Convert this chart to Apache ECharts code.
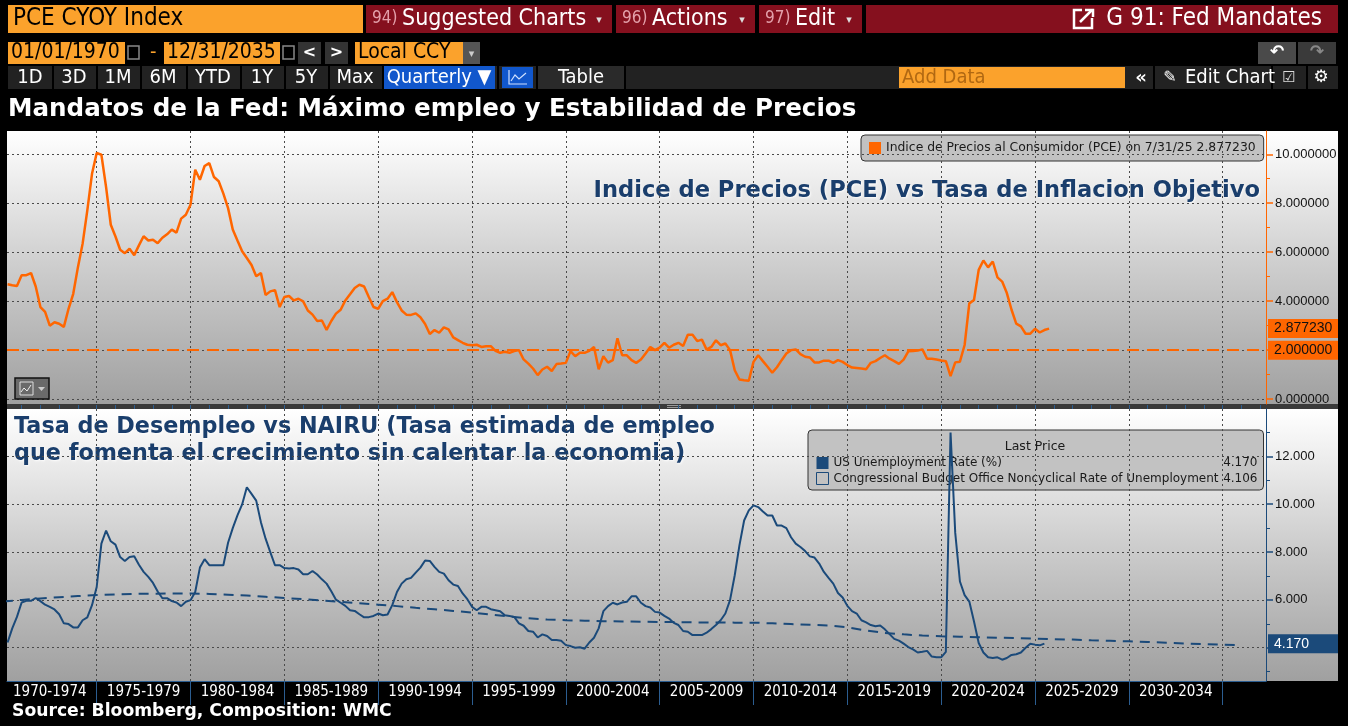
<!DOCTYPE html>
<html>
<head>
<meta charset="utf-8">
<title>G 91: Fed Mandates</title>
<script src="https://cdn.jsdelivr.net/npm/echarts@6/dist/echarts.min.js"></script>
<style>
  html, body { margin: 0; padding: 0; background: #000; }
  #main { width: 1348px; height: 726px; }
</style>
</head>
<body>
<div id="main"></div>
<script>
// PCE CYOY, quarterly from 1970 Q1 (last point is July 2025)
const pceStartYear = 1970;
const pceCore = [
  4.69, 4.65, 4.62, 5.06,  5.06, 5.15, 4.60, 3.76,  3.56, 3.00, 3.14, 3.08,
  2.95, 3.69, 4.30, 5.39,  6.35, 7.71, 9.20, 10.05, 9.98, 8.66, 7.12, 6.64,
  6.10, 5.96, 6.14, 5.88,  6.28, 6.65, 6.48, 6.51,  6.37, 6.59, 6.73, 6.92,
  6.80, 7.37, 7.53, 7.94,  9.37, 8.96, 9.52, 9.64,  9.07, 8.90, 8.39, 7.80,
  6.93, 6.48, 6.04, 5.76,  5.48, 5.02, 5.15, 4.25,  4.40, 4.45, 3.76, 4.17,
  4.21, 4.03, 4.10, 3.99,  3.62, 3.45, 3.19, 3.21,  2.83, 3.19, 3.49, 3.65,
  4.03, 4.28, 4.54, 4.67,  4.60, 4.17, 3.76, 3.69,  4.00, 4.10, 4.37, 3.96,
  3.62, 3.45, 3.44, 3.50,  3.34, 3.07, 2.66, 2.82,  2.71, 2.93, 2.85, 2.52,
  2.41, 2.30, 2.22, 2.20,  2.22, 2.13, 2.16, 2.16,  1.97, 1.89, 1.93, 1.89,
  1.96, 2.00, 1.62, 1.45,  1.25, 0.98, 1.21, 1.32,  1.15, 1.43, 1.45, 1.48,
  1.96, 1.75, 1.89, 1.89,  1.97, 2.13, 1.22, 1.75,  1.49, 1.59, 2.48, 1.79,
  1.79, 1.59, 1.48, 1.62,  1.86, 2.13, 2.00, 2.10,  2.30, 2.10, 2.22, 2.30,
  2.17, 2.63, 2.63, 2.37,  2.43, 2.02, 2.13, 2.40,  2.20, 2.27, 2.00, 1.18,
  0.80, 0.77, 0.75, 1.52,  1.79, 1.55, 1.32, 1.08,  1.30, 1.59, 1.86, 2.00,
  2.03, 1.84, 1.73, 1.70,  1.50, 1.50, 1.57, 1.57,  1.48, 1.59, 1.52, 1.39,
  1.29, 1.27, 1.25, 1.22,  1.48, 1.55, 1.68, 1.79,  1.65, 1.55, 1.44, 1.61,
  1.95, 1.96, 1.98, 2.03,  1.65, 1.65, 1.62, 1.58,  1.55, 0.94, 1.50, 1.53,
  2.21, 3.91, 4.05, 5.28,  5.66, 5.38, 5.62, 4.97,  4.80, 4.33, 3.65, 3.08,
  2.97, 2.67, 2.67, 2.87,  2.72, 2.82, 2.877230
];

// US unemployment rate, quarterly averages from 1970 Q1
const unempStartYear = 1970;
const unemployment = [
  4.22, 4.81, 5.29, 5.89,  5.96, 5.96, 6.08, 5.95,  5.80, 5.71, 5.60, 5.40,
  5.02, 4.99, 4.85, 4.85,  5.15, 5.27, 5.78, 6.54,  8.35, 8.90, 8.45, 8.31,
  7.79, 7.63, 7.79, 7.82,  7.47, 7.17, 6.96, 6.71,  6.35, 6.07, 6.07, 5.95,
  5.89, 5.74, 5.92, 5.99,  6.33, 7.35, 7.70, 7.45,  7.45, 7.45, 7.45, 8.39,
  9.00, 9.53, 9.99, 10.71, 10.43, 10.15, 9.25, 8.56, 8.00, 7.45, 7.45, 7.33,
  7.31, 7.33, 7.27, 7.07,  7.07, 7.21, 7.06, 6.86,  6.68, 6.36, 6.01, 5.88,
  5.75, 5.57, 5.54, 5.40,  5.27, 5.28, 5.33, 5.43,  5.36, 5.39, 5.78, 6.33,
  6.68, 6.86, 6.92, 7.14,  7.35, 7.65, 7.63, 7.38,  7.17, 7.10, 6.82, 6.64,
  6.58, 6.27, 6.03, 5.71,  5.57, 5.71, 5.71, 5.61,  5.57, 5.53, 5.36, 5.33,
  5.29, 5.02, 4.92, 4.70,  4.67, 4.43, 4.56, 4.49,  4.32, 4.32, 4.29, 4.11,
  4.07, 4.00, 4.02, 3.96,  4.22, 4.42, 4.81, 5.53,  5.74, 5.88, 5.81, 5.89,
  5.92, 6.15, 6.15, 5.88,  5.74, 5.68, 5.50, 5.47,  5.33, 5.22, 5.04, 4.95,
  4.70, 4.67, 4.53, 4.53,  4.53, 4.63, 4.78, 4.95,  5.15, 5.43, 5.99, 7.03,
  8.28, 9.32, 9.74, 9.95,  9.88, 9.70, 9.53, 9.53,  9.11, 9.11, 9.00, 8.62,
  8.35, 8.21, 8.04, 7.82,  7.77, 7.52, 7.17, 6.92,  6.68, 6.29, 6.10, 5.75,
  5.53, 5.43, 5.15, 5.06,  4.95, 4.90, 4.93, 4.77,  4.57, 4.37, 4.30, 4.17,
  4.03, 3.93, 3.80, 3.83,  3.87, 3.63, 3.60, 3.60,  3.83, 13.00, 8.80, 6.77,
  6.20, 5.93, 5.10, 4.20,  3.80, 3.60, 3.57, 3.60,  3.50, 3.57, 3.70, 3.73,
  3.80, 4.00, 4.17, 4.13,  4.10, 4.17
];

// CBO noncyclical rate of unemployment, one point per year end (1970.0 .. 2036.0)
const nairuStartYear = 1970;
const nairu = [
  5.93, 6.00, 6.06, 6.11, 6.16, 6.20, 6.23, 6.25, 6.26, 6.27,
  6.27, 6.25, 6.22, 6.18, 6.13, 6.08, 6.03, 5.98, 5.92, 5.86,
  5.80, 5.74, 5.67, 5.61, 5.54, 5.47, 5.39, 5.31, 5.23, 5.18,
  5.15, 5.13, 5.11, 5.10, 5.09, 5.08, 5.07, 5.06, 5.06, 5.05,
  5.05, 5.02, 4.99, 4.96, 4.93, 4.86, 4.72, 4.62, 4.56, 4.51,
  4.48, 4.46, 4.44, 4.42, 4.40, 4.38, 4.36, 4.34, 4.31, 4.29,
  4.27, 4.24, 4.21, 4.18, 4.15, 4.13, 4.106
];

const periodLabels = ['1970-1974', '1975-1979', '1980-1984', '1985-1989', '1990-1994', '1995-1999',
  '2000-2004', '2005-2009', '2010-2014', '2015-2019', '2020-2024', '2025-2029', '2030-2034'];
const pceTicks = [0, 2, 4, 6, 8, 10];
const pceMinorTicks = [1, 3, 5, 7, 9];
const unempTicks = [4, 6, 8, 10, 12];
const unempLabelTicks = [6, 8, 10, 12];
const unempMinorTicks = [3, 5, 7, 9, 11, 13];

const pceName = 'Indice de Precios al Consumidor (PCE)';
const unempName = 'US Unemployment Rate (%)';
const nairuName = 'Congressional Budget Office Noncyclical Rate of Unemployment';
const pceTarget = 2;
const pceLastDate = '7/31/25';
const pceLast = 2.877230;
const unempLast = 4.170;
const nairuLast = 4.106;

const toQuarterly = (start, vals) => vals.map((v, i) => [start + (i + 1) / 4, v]);
const toYearEnd = (start, vals) => vals.map((v, i) => [start + i, v]);

const periodStarts = periodLabels.map(l => parseInt(l, 10));
const periodMids = periodStarts.map(y => y + 2.5);
const periodBounds = periodStarts.map(y => y + 5);
const yearTicks = [];
for (let y = 1971; y <= 2037; y++) yearTicks.push(y);

const xMin = 1970.22, xMax = 2037.31;

const NARROW = "'Liberation Sans Narrow','DejaVu Sans Condensed','Liberation Sans',sans-serif";
const SANS = "'DejaVu Sans',sans-serif";
const UI_ORANGE = '#fba22c';
const UI_RED = '#85101e';
const ORANGE = '#ff6600';
const BLUE = '#1b4a7a';
const TITLE_BLUE = '#1a3e6c';

function rect(x, y, w, h, fill, z, extra) {
  return { type: 'rect', silent: true, z: z === undefined ? 10 : z,
    shape: { x: x, y: y, width: w, height: h },
    style: Object.assign({ fill: fill }, extra || {}) };
}
function text(x, y, str, font, fill, align, z, extra) {
  return { type: 'text', silent: true, x: x, y: y, z: z === undefined ? 11 : z,
    style: Object.assign({ text: str, font: font, fill: fill,
      align: align || 'left', textAlign: align || 'left',
      verticalAlign: 'middle', textVerticalAlign: 'middle' }, extra || {}) };
}
function panelFill() {
  return new echarts.graphic.LinearGradient(0, 0, 0, 1, [
    { offset: 0, color: '#ffffff' }, { offset: 0.5, color: '#cdcdcd' }, { offset: 1, color: '#a0a0a0' }
  ]);
}

const ui = [];
// row 1
ui.push(rect(8, 5, 355, 28, UI_ORANGE));
ui.push(text(13, 19, 'PCE CYOY Index', '24px ' + NARROW, '#000'));
[[366, 246, '94)', 'Suggested Charts'], [616, 139, '96)', 'Actions'], [759, 103, '97)', 'Edit']].forEach(b => {
  ui.push(rect(b[0], 5, b[1], 28, UI_RED));
  ui.push(text(b[0] + 6, 19, b[2], '17px ' + NARROW, '#e3a0aa'));
  ui.push(text(b[0] + 36, 19, b[3], '23px ' + NARROW, '#fff'));
  ui.push(text(b[0] + b[1] - 13, 20, '\u25BE', '11px ' + SANS, '#ddd', 'center'));
});
ui.push(rect(866, 5, 472, 28, UI_RED));
ui.push(rect(1074, 10, 18, 18, 'none', 11, { stroke: '#fff', lineWidth: 2.5 }));
ui.push(rect(1082, 8, 12, 10, UI_RED, 12));
ui.push({ type: 'polyline', silent: true, z: 13, shape: { points: [[1080, 22], [1092, 10]] }, style: { stroke: '#fff', lineWidth: 2.5 } });
ui.push({ type: 'polyline', silent: true, z: 13, shape: { points: [[1085, 10], [1093, 10], [1093, 17]] }, style: { stroke: '#fff', lineWidth: 2.5, fill: 'none' } });
ui.push(text(1322, 19, 'G 91: Fed Mandates', '24px ' + NARROW, '#fff', 'right'));

// row 2
ui.push(rect(8, 42, 117, 22, UI_ORANGE));
ui.push(text(11, 53, '01/01/1970', '21px ' + NARROW, '#000'));
ui.push(rect(128, 46, 11, 13, 'none', 11, { stroke: '#888', lineWidth: 1.5 }));
ui.push(text(150, 53, '-', '20px ' + NARROW, UI_ORANGE));
ui.push(rect(164, 42, 116, 22, UI_ORANGE));
ui.push(text(167, 53, '12/31/2035', '21px ' + NARROW, '#000'));
ui.push(rect(283, 46, 11, 13, 'none', 11, { stroke: '#888', lineWidth: 1.5 }));
ui.push(rect(298, 42, 23, 22, '#333'));
ui.push(text(309.5, 53, '<', 'bold 16px ' + SANS, '#fff', 'center'));
ui.push(rect(325, 42, 23, 22, '#333'));
ui.push(text(336.5, 53, '>', 'bold 16px ' + SANS, '#fff', 'center'));
ui.push(rect(355, 42, 108, 22, UI_ORANGE));
ui.push(text(358, 53, 'Local CCY', '21px ' + NARROW, '#000'));
ui.push(rect(463, 42, 17, 22, '#555'));
ui.push(text(471.5, 54, '\u25BE', '11px ' + SANS, '#ccc', 'center'));
ui.push(rect(1258, 42, 38, 22, '#4a4a4a'));
ui.push(text(1277, 53, '\u21B6', 'bold 17px ' + SANS, '#fff', 'center'));
ui.push(rect(1298, 42, 38, 22, '#3a3a3a'));
ui.push(text(1317, 53, '\u21B7', 'bold 17px ' + SANS, '#888', 'center'));

// row 3
ui.push(rect(8, 66, 1330, 23, '#222'));
[['1D', 30], ['3D', 74], ['1M', 118], ['6M', 163], ['YTD', 213], ['1Y', 262], ['5Y', 306], ['Max', 355]].forEach(b => {
  ui.push(text(b[1], 78, b[0], '20px ' + NARROW, '#fff', 'center'));
});
[52, 96, 140, 186, 240, 284, 328, 382, 497, 536, 624].forEach(x => ui.push(rect(x, 66, 2, 23, '#000')));
ui.push(rect(384, 66, 111, 23, '#1157cc'));
ui.push(text(439, 78, 'Quarterly \u25BC', '20px ' + NARROW, '#fff', 'center'));
ui.push(rect(502, 67, 31, 21, '#1157cc'));
ui.push({ type: 'polyline', silent: true, z: 12, shape: { points: [[509, 70], [509, 84], [527, 84]] }, style: { stroke: '#cfe0ff', lineWidth: 1.2, fill: 'none' } });
ui.push({ type: 'polyline', silent: true, z: 12, shape: { points: [[511, 81], [515, 75], [519, 79], [526, 73]] }, style: { stroke: '#cfe0ff', lineWidth: 1.2, fill: 'none' } });
ui.push(rect(538, 66, 86, 23, '#2a2a2a'));
ui.push(text(581, 78, 'Table', '20px ' + NARROW, '#fff', 'center'));
ui.push(rect(899, 67, 226, 21, UI_ORANGE));
ui.push(text(902, 78, 'Add Data', '20px ' + NARROW, '#b06812'));
ui.push(text(1141, 78, '\u00AB', 'bold 18px ' + SANS, '#fff', 'center'));
ui.push(rect(1153, 66, 2, 23, '#000'));
ui.push(text(1170, 78, '\u270E', '16px ' + SANS, '#fff', 'center'));
ui.push(text(1185, 78, 'Edit Chart', '20px ' + NARROW, '#fff'));
ui.push(rect(1271, 66, 2, 23, '#000'));
ui.push(text(1289, 78, '\u2611', '15px ' + SANS, '#ddd', 'center'));
ui.push(rect(1306, 66, 2, 23, '#000'));
ui.push(text(1321, 78, '\u2699', '17px ' + SANS, '#fff', 'center'));

// title and source
ui.push(text(8, 110, 'Mandatos de la Fed: M\u00E1ximo empleo y Estabilidad de Precios', 'bold 24.6px ' + SANS, '#fff'));
ui.push(text(12, 712, 'Source: Bloomberg, Composition: WMC', 'bold 17.2px ' + SANS, '#fff'));

// panels
ui.push(rect(7, 131, 1331, 273, panelFill(), -10));
ui.push(rect(7, 404, 1331, 5, '#3a3a3a', -10));
ui.push(rect(667, 405, 14, 1, '#999', -9));
ui.push(rect(667, 407, 14, 1, '#999', -9));
ui.push(rect(7, 409, 1331, 272, panelFill(), -10));

// titles inside panels (grid lines pass over them)
const shadow = { textShadowColor: 'rgba(255,255,255,0.9)', textShadowBlur: 2, textShadowOffsetX: 1, textShadowOffsetY: 1 };
ui.push(text(1260, 191, 'Indice de Precios (PCE) vs Tasa de Inflacion Objetivo', 'bold 22.6px ' + SANS, TITLE_BLUE, 'right', -5, shadow));
ui.push(text(14, 427, 'Tasa de Desempleo vs NAIRU (Tasa estimada de empleo', 'bold 22.3px ' + SANS, TITLE_BLUE, 'left', -5, shadow));
ui.push(text(14, 454, 'que fomenta el crecimiento sin calentar la economia)', 'bold 22.3px ' + SANS, TITLE_BLUE, 'left', -5, shadow));
ui.push(text(1035, 447, 'Last Price', '12.5px ' + SANS, '#1a1a1a', 'center', -1));

// chart-type button in the upper panel
ui.push(rect(15, 378, 34, 21, '#6a6a6a', 5, { stroke: '#111', lineWidth: 1.5 }));
ui.push(rect(20, 382, 13, 13, 'none', 6, { stroke: '#ddd', lineWidth: 1 }));
ui.push({ type: 'polyline', silent: true, z: 6, shape: { points: [[21, 392], [24, 388], [27, 391], [31, 385]] }, style: { stroke: '#eee', lineWidth: 1, fill: 'none' } });
ui.push({ type: 'polygon', silent: true, z: 6, shape: { points: [[38, 387], [45, 387], [41.5, 391]] }, style: { fill: '#ccc' } });

const dotted = { color: '#4a4a4a', width: 1, type: [2, 3] };
const hidden = { color: 'rgba(0,0,0,0)', width: 0 };
const tagLabel = (bg, fg, str) => ({
  show: true, position: 'end', distance: 2, formatter: str,
  backgroundColor: bg, color: fg, fontFamily: "'Liberation Sans',sans-serif", fontSize: 14,
  padding: [3, 4, 2, 6], width: 60
});

const chart = echarts.init(document.getElementById('main'));
chart.setOption({
  backgroundColor: '#000',
  animation: false,
  graphic: ui,
  grid: [
    { left: 7, top: 131, width: 1259, height: 273, outerBoundsMode: 'none' },
    { left: 7, top: 409, width: 1259, height: 272, outerBoundsMode: 'none' }
  ],
  legend: [
    {
      data: [{ name: pceName, icon: 'rect' }],
      left: 861, top: 135, z: -2, selectedMode: false,
      padding: [7, 8, 7, 8], itemWidth: 12, itemHeight: 12,
      backgroundColor: '#c2c2c2', borderColor: '#333', borderWidth: 1, borderRadius: 4,
      textStyle: { fontFamily: SANS, fontSize: 12.4, color: '#1a1a1a' },
      formatter: name => name + ' on ' + pceLastDate + ' ' + pceLast.toFixed(6)
    },
    {
      data: [
        { name: unempName, icon: 'rect', itemStyle: { color: BLUE } },
        { name: nairuName, icon: 'rect', itemStyle: { color: 'rgba(0,0,0,0)', borderColor: BLUE, borderWidth: 1 } }
      ],
      orient: 'vertical', left: 808, top: 430, z: -2, selectedMode: false,
      padding: [27, 6, 5, 8], itemGap: 3, itemWidth: 12, itemHeight: 12,
      backgroundColor: '#c2c2c2', borderColor: '#333', borderWidth: 1, borderRadius: 4,
      textStyle: {
        fontFamily: SANS, fontSize: 12, color: '#1a1a1a',
        rich: {
          n: { width: 386, fontFamily: SANS, fontSize: 12, color: '#1a1a1a' },
          v: { width: 38, align: 'right', fontFamily: SANS, fontSize: 12, color: '#1a1a1a' }
        }
      },
      formatter: name => '{n|' + name + '}{v|' + (name === unempName ? unempLast.toFixed(3) : nairuLast.toFixed(3)) + '}'
    }
  ],
  xAxis: [
    {
      gridIndex: 0, type: 'value', min: xMin, max: xMax,
      axisLine: { show: false }, axisLabel: { show: false },
      axisTick: { show: false, customValues: periodBounds },
      splitLine: { show: true, lineStyle: dotted }
    },
    {
      gridIndex: 1, type: 'value', min: xMin, max: xMax,
      axisLine: { show: true, onZero: false, lineStyle: { color: '#2b5d90', width: 1 } },
      axisTick: { show: true, customValues: periodBounds, length: 24, lineStyle: { color: '#2b5d90', width: 1 } },
      axisLabel: {
        show: true, customValues: periodMids, margin: 4,
        color: '#fff', fontFamily: NARROW, fontSize: 15,
        formatter: v => periodLabels[periodMids.indexOf(v)] || ''
      },
      splitLine: { show: true, lineStyle: dotted }
    },
    {
      gridIndex: 1, type: 'value', min: xMin, max: xMax,
      axisLine: { show: false }, axisLabel: { show: false }, splitLine: { show: false },
      axisTick: { show: true, customValues: yearTicks, length: 4, lineStyle: { color: '#2b5d90', width: 1 } }
    }
  ],
  yAxis: [
    {
      gridIndex: 0, type: 'value', position: 'right', min: -0.2, max: 10.95,
      axisLine: { show: true, lineStyle: { color: ORANGE, width: 1 } },
      axisTick: { show: true, customValues: pceTicks, length: 7, lineStyle: { color: ORANGE, width: 1.5 } },
      axisLabel: { show: true, customValues: pceTicks, margin: 9, color: '#111',
        fontFamily: "'Liberation Sans',sans-serif", fontSize: 13, formatter: v => v.toFixed(6) },
      splitLine: { show: true, lineStyle: dotted }
    },
    {
      gridIndex: 0, type: 'value', position: 'right', min: -0.2, max: 10.95,
      axisLine: { show: false }, axisLabel: { show: false }, splitLine: { show: false },
      axisTick: { show: true, customValues: pceMinorTicks, length: 4, lineStyle: { color: ORANGE, width: 1 } }
    },
    {
      gridIndex: 1, type: 'value', position: 'right', min: 2.61, max: 13.98,
      axisLine: { show: true, lineStyle: { color: BLUE, width: 1 } },
      axisTick: { show: true, customValues: unempTicks, length: 7, lineStyle: { color: BLUE, width: 1.5 } },
      axisLabel: { show: true, customValues: unempLabelTicks, margin: 9, color: '#111',
        fontFamily: "'Liberation Sans',sans-serif", fontSize: 13, formatter: v => v.toFixed(3) },
      splitLine: { show: true, lineStyle: dotted }
    },
    {
      gridIndex: 1, type: 'value', position: 'right', min: 2.61, max: 13.98,
      axisLine: { show: false }, axisLabel: { show: false }, splitLine: { show: false },
      axisTick: { show: true, customValues: unempMinorTicks, length: 4, lineStyle: { color: BLUE, width: 1 } }
    }
  ],
  series: [
    {
      name: pceName, type: 'line', xAxisIndex: 0, yAxisIndex: 0, z: 3,
      data: toQuarterly(pceStartYear, pceCore),
      showSymbol: false, symbol: 'none', color: ORANGE,
      lineStyle: { color: ORANGE, width: 2.5 },
      markLine: {
        silent: true, symbol: 'none', animation: false,
        data: [
          { yAxis: pceTarget, lineStyle: { color: ORANGE, width: 2, type: [12, 8] },
            label: tagLabel(ORANGE, '#111', pceTarget.toFixed(6)) },
          { yAxis: pceLast, lineStyle: hidden,
            label: tagLabel(ORANGE, '#111', pceLast.toFixed(6)) }
        ]
      }
    },
    {
      name: unempName, type: 'line', xAxisIndex: 1, yAxisIndex: 2, z: 3,
      data: toQuarterly(unempStartYear, unemployment),
      showSymbol: false, symbol: 'none', color: BLUE,
      lineStyle: { color: BLUE, width: 2 },
      markLine: {
        silent: true, symbol: 'none', animation: false,
        data: [
          { yAxis: unempLast, lineStyle: hidden,
            label: tagLabel(BLUE, '#fff', unempLast.toFixed(3)) }
        ]
      }
    },
    {
      name: nairuName, type: 'line', xAxisIndex: 1, yAxisIndex: 2, z: 3,
      data: toYearEnd(nairuStartYear, nairu),
      showSymbol: false, symbol: 'none', color: BLUE,
      lineStyle: { color: BLUE, width: 2, type: [10, 7] }
    }
  ]
});
</script>
</body>
</html>
